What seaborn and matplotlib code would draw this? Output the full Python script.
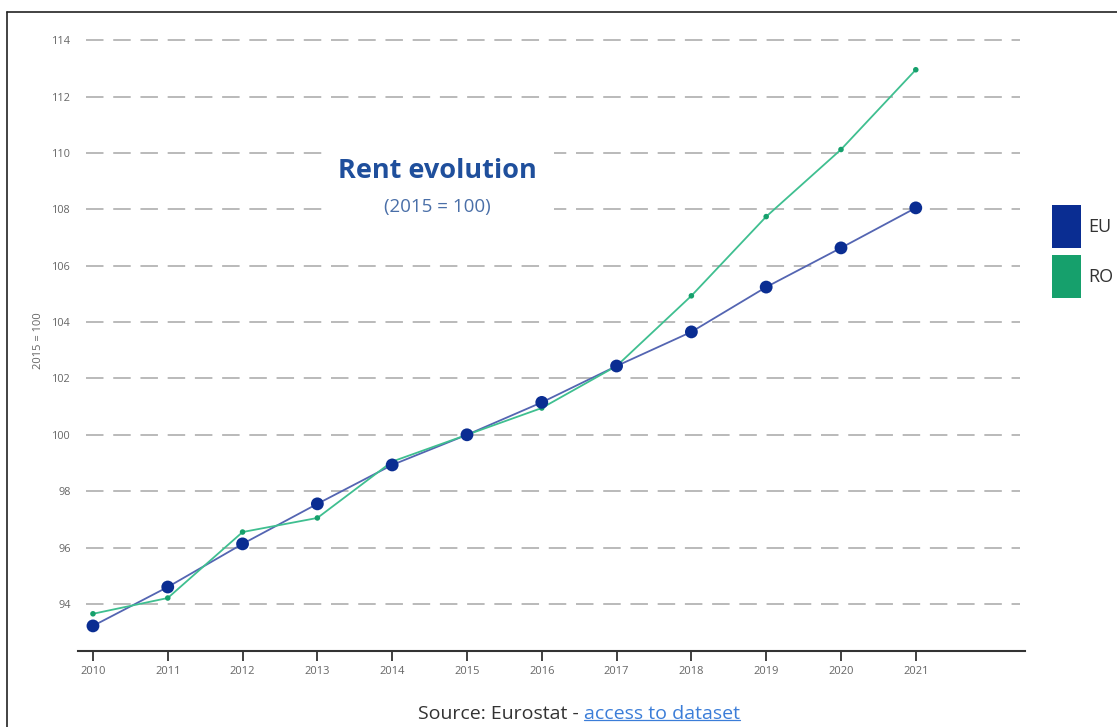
import pandas as pd
import matplotlib.pyplot as plt
import seaborn as sns
from matplotlib.patches import Rectangle
from matplotlib.lines import Line2D

# =====================
# DATA
# =====================
years = [2010, 2011, 2012, 2013, 2014, 2015, 2016, 2017, 2018, 2019, 2020, 2021]
eu_values = [93.22, 94.6, 96.13, 97.55, 98.93, 100.0, 101.15, 102.44, 103.65, 105.24, 106.63, 108.05]
ro_values = [93.65, 94.21, 96.55, 97.05, 99.05, 100.0, 100.95, 102.44, 104.93, 107.74, 110.12, 112.95]
y_ticks = [94, 96, 98, 100, 102, 104, 106, 108, 110, 112, 114]

df = pd.DataFrame({
    'Year': years * 2,
    'Index': eu_values + ro_values,
    'Country': ['EU'] * len(years) + ['RO'] * len(years),
})

line_colors = {'EU': '#5465b2', 'RO': '#3fbf90'}
dot_colors = {'EU': '#0a2d92', 'RO': '#16a06c'}
dot_sizes = {'EU': 85, 'RO': 16}

# =====================
# PLOT
# =====================
sns.set_theme(style="white")
plt.rcParams['font.family'] = ['Open Sans', 'DejaVu Sans']

fig = plt.figure(figsize=(11.17, 7.27), dpi=100)
ax = fig.add_axes([78 / 1117, 1 - 651 / 727, (1025 - 78) / 1117, (651 - 30) / 727])

sns.lineplot(data=df, x='Year', y='Index', hue='Country', palette=line_colors,
             linewidth=1.3, legend=False, ax=ax)
for country in ['RO', 'EU']:
    sub = df[df['Country'] == country]
    sns.scatterplot(data=sub, x='Year', y='Index', color=dot_colors[country],
                    s=dot_sizes[country], edgecolor='none', legend=False, ax=ax, zorder=4)

ax.set_xlim(2009.8, 2022.46)
ax.set_ylim(92.33, 114.36)
ax.set_xticks(years)
ax.set_xticklabels([str(y) for y in years], fontsize=8, color='#666666')
ax.set_yticks(y_ticks)
ax.set_yticklabels([str(t) for t in y_ticks], fontsize=7.8, color='#666666')
ax.tick_params(axis='x', length=7, width=1.3, color='#333333', pad=4, bottom=True)
ax.tick_params(axis='y', length=0, pad=5)
ax.set_xlabel('')
ax.set_ylabel('2015 = 100', fontsize=8, color='#666666', labelpad=6)

for t in y_ticks:
    ax.axhline(t, color='#bababa', linewidth=1.4, dashes=(9, 5), zorder=0,
               xmin=0.008, xmax=0.995)

for side in ['top', 'right', 'left']:
    ax.spines[side].set_visible(False)
ax.spines['bottom'].set_color('#333333')
ax.spines['bottom'].set_linewidth(1.5)

# title box
fig.patches.append(Rectangle((322 / 1117, 1 - 225 / 727), 232 / 1117, 85 / 727,
                             transform=fig.transFigure, facecolor='white',
                             edgecolor='none', zorder=3))
fig.text(437 / 1117, 1 - 171 / 727, 'Rent evolution', fontsize=19.5, fontweight='bold',
         color='#1f4f9c', ha='center', va='center', zorder=5)
fig.text(437 / 1117, 1 - 207 / 727, '(2015 = 100)', fontsize=13.5,
         color='#4a6fa8', ha='center', va='center', zorder=5)

# legend
for i, country in enumerate(['EU', 'RO']):
    top = 205 + i * 50
    fig.patches.append(Rectangle((1052 / 1117, 1 - (top + 43) / 727), 29 / 1117, 43 / 727,
                                 transform=fig.transFigure,
                                 facecolor=dot_colors[country], edgecolor='none'))
    fig.text(1088 / 1117, 1 - (top + 22) / 727, country, fontsize=13,
             color='#333333', ha='left', va='center')

# source line
src = fig.text(584 / 1117, 1 - 714 / 727, 'Source: Eurostat - ', fontsize=14,
               color='#333333', ha='right', va='center')
link = fig.text(584 / 1117, 1 - 714 / 727, 'access to dataset', fontsize=14,
                color='#3b7dd8', ha='left', va='center')
fig.canvas.draw()
bb = link.get_window_extent().transformed(fig.transFigure.inverted())
fig.lines.append(Line2D([bb.x0, bb.x1], [bb.y0 + 0.004, bb.y0 + 0.004],
                        transform=fig.transFigure, color='#3b7dd8', linewidth=0.9))

# frame lines
fig.lines.append(Line2D([7 / 1117, 1], [1 - 12 / 727, 1 - 12 / 727],
                        transform=fig.transFigure, color='#222222', linewidth=1.2))
fig.lines.append(Line2D([7 / 1117, 7 / 1117], [0, 1 - 12 / 727],
                        transform=fig.transFigure, color='#222222', linewidth=1.2))

plt.savefig("out.png", dpi=100, facecolor='white')
plt.close()
